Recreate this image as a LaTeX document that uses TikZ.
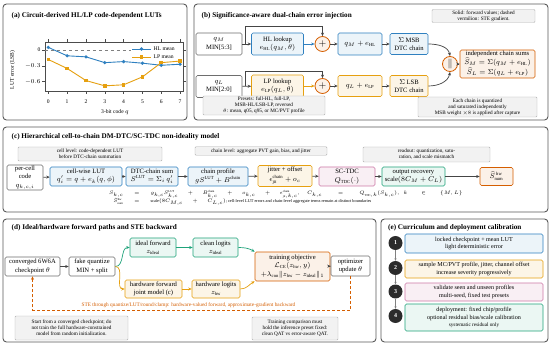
\documentclass[tikz,border=0pt]{standalone}
\usepackage{amsmath,amssymb}
\usepackage{fontspec}
\setmainfont{Liberation Serif}
\usepackage{tikz}
\usetikzlibrary{arrows.meta, positioning, calc}
\usepackage{xcolor}
\definecolor{PanelGray}{HTML}{5A5A5A}
\definecolor{BoxGray}{HTML}{6E6E6E}
\definecolor{NoteGray}{HTML}{B0B0B0}
\definecolor{NoteFill}{HTML}{F2F2F2}
\definecolor{ArrowGray}{HTML}{454545}
\definecolor{CBBlue}{HTML}{2F80C0}
\definecolor{CBOrange}{HTML}{E6A010}
\definecolor{CBVermilion}{HTML}{D55E00}
\definecolor{CBGreen}{HTML}{1FA37A}
\definecolor{CBPurple}{HTML}{CC79A7}
\definecolor{StepBlack}{HTML}{2B2B2B}
\newcommand{\ptitlefont}{\fontsize{7.2}{8.6}\selectfont\bfseries}
\newcommand{\pboxfont}{\fontsize{6.6}{8.4}\selectfont}
\newcommand{\pcurrfont}{\fontsize{6.1}{7.4}\selectfont}
\newcommand{\pnotefont}{\fontsize{5.2}{6.1}\selectfont}
\newcommand{\ptickfont}{\fontsize{5.6}{6.5}\selectfont}
\newcommand{\peqfont}{\fontsize{4.3}{6.4}\selectfont}
\tikzset{
    % Panel styles
    panel/.style={
        draw=PanelGray,
        line width=0.9pt,
        rounded corners=3.5pt
    },
    paneltitle/.style={
        anchor=west,
        inner sep=0pt,
        font=\ptitlefont
    },
    % Node styles
    plainbox/.style={
        rectangle,
        rounded corners=1.5pt,
        draw=BoxGray,
        fill=white,
        line width=0.6pt,
        align=center,
        inner sep=0.5pt,
        font=\pboxfont
    },
    hlbox/.style={plainbox, draw=CBBlue, fill=CBBlue!9},
    lpbox/.style={plainbox, draw=CBOrange, fill=CBOrange!10},
    sumbox/.style={plainbox, draw=CBVermilion, fill=CBVermilion!9},
    tdcbox/.style={plainbox, draw=CBPurple, fill=CBPurple!12},
    recbox/.style={plainbox, draw=CBGreen, fill=CBGreen!9},
    currbox/.style={minimum width=138pt, font=\pcurrfont},
    notebox/.style={
        rectangle,
        rounded corners=1pt,
        draw=NoteGray,
        fill=NoteFill,
        line width=0.4pt,
        align=center,
        inner sep=0.5pt,
        font=\pnotefont
    },
    opcircle/.style={
        circle,
        draw=CBVermilion,
        fill=CBVermilion!9,
        line width=0.8pt,
        minimum size=15pt,
        inner sep=0pt,
        font=\fontsize{10}{10}\selectfont
    },
    stepdot/.style={
        circle,
        fill=StepBlack,
        text=white,
        minimum size=14pt,
        inner sep=0pt,
        font=\fontsize{6}{6}\selectfont\bfseries
    },
    eqtext/.style={inner sep=0pt, font=\peqfont},
    ticklabel/.style={inner sep=0.5pt, font=\ptickfont},
    stelabel/.style={inner sep=0pt, font=\fontsize{5.3}{6}\selectfont, text=CBVermilion},
    % Arrow styles
    myarrow/.style={
        -{Stealth[length=3.5pt,width=3pt]},
        line width=0.7pt,
        ArrowGray
    },
    blueflow/.style={myarrow, CBBlue},
    orangeflow/.style={myarrow, CBOrange},
    greenflow/.style={myarrow, CBGreen},
    steparrow/.style={-{Stealth[length=2.5pt,width=2.2pt]}, line width=0.5pt, gray},
    stearrow/.style={
        -{Stealth[length=3.5pt,width=3pt]},
        line width=0.9pt,
        dash pattern=on 3pt off 2pt,
        CBVermilion
    },
    % Plot styles
    hlcurve/.style={CBBlue, line width=0.9pt},
    lpcurve/.style={CBOrange, line width=0.9pt}
}

\begin{document}
\begin{tikzpicture}[x=1pt, y=-1pt]
    \useasboundingbox (0,0) rectangle (550,345);
    \fill[white] (0,0) rectangle (550,345);

    % Panels
    \draw[panel] (3,4) rectangle (187,120);
    \draw[panel] (194,4) rectangle (548,120);
    \draw[panel] (3,127) rectangle (548,212);
    \draw[panel] (3,219) rectangle (376,342);
    \draw[panel] (381,219) rectangle (548,342);

    \node[paneltitle] (titleA) at (11.5,15.5) {(a) Circuit-derived HL/LP code-dependent LUTs};
    \node[paneltitle] (titleB) at (201.5,15.5) {(b) Significance-aware dual-chain error injection};
    \node[paneltitle] (titleC) at (11.5,137) {(c) Hierarchical cell-to-chain DM-DTC/SC-TDC non-ideality model};
    \node[paneltitle] (titleD) at (11.5,227.5) {(d) Ideal/hardware forward paths and STE backward};
    \node[paneltitle] (titleE) at (388,227.5) {(e) Curriculum and deployment calibration};

    % (a) LUT plot
    \begin{scope}[shift={(48.3,50)}, x=18.83pt, y=52.7pt]
        \draw[line width=0.5pt, black!70] (-0.18,-0.78) rectangle (7.15,0.15);
        \draw[line width=0.5pt, gray, dashed] (-0.18,0) -- (7.15,0);
        \foreach \q in {0,...,7} {
            \draw[line width=0.5pt, black!70] (\q,0.15) -- (\q,0.205);
            \draw[line width=0.5pt, black!70] (\q,-0.78) -- (\q,-0.835);
            \node[ticklabel] at (\q,-0.98) {\q};
        }
        \foreach \v/\t in {0/0, -0.3/$-0.3$, -0.6/$-0.6$} {
            \draw[line width=0.5pt, black!70] (-0.18,\v) -- (-0.34,\v);
            \draw[line width=0.5pt, black!70] (7.15,\v) -- (7.31,\v);
            \node[ticklabel, anchor=east] at (-0.38,\v) {\t};
        }
        \fill[white] (4.4,0.02) rectangle (6.98,-0.21);
        \draw[hlcurve] plot coordinates {(0,0.05) (1,-0.11) (2,-0.13) (3,-0.24) (4,-0.22) (5,-0.25) (6,-0.29) (7,-0.27)};
        \draw[lpcurve] plot coordinates {(0,-0.18) (1,-0.35) (2,-0.58) (3,-0.68) (4,-0.66) (5,-0.51) (6,-0.24) (7,-0.21)};
        \foreach \q/\v in {0/0.05, 1/-0.11, 2/-0.13, 3/-0.24, 4/-0.22, 5/-0.25, 6/-0.29, 7/-0.27}
            \fill[CBBlue] (\q,\v) circle[radius=1.8pt];
        \foreach \q/\v in {0/-0.18, 1/-0.35, 2/-0.58, 3/-0.68, 4/-0.66, 5/-0.51, 6/-0.24, 7/-0.21}
            \fill[CBOrange] ($(\q,\v)+(-1.8pt,-1.8pt)$) rectangle +(3.6pt,3.6pt);
    \end{scope}
    % legend
    \draw[hlcurve] (132,49) -- (151,49);
    \fill[CBBlue] (141.5,49) circle[radius=1.8pt];
    \node[ticklabel, anchor=west] (legHL) at (153,49) {HL mean};
    \draw[lpcurve] (132,57) -- (151,57);
    \fill[CBOrange] (139.7,55.2) rectangle (143.3,58.8);
    \node[ticklabel, anchor=west] (legLP) at (153,57) {LP mean};
    \node[ticklabel, rotate=90] (ylab) at (12.5,70) {LUT error (LSB)};
    \node[ticklabel] (xlab) at (115,112) {3-bit code $q$};

    % (b) dual-chain injection
    \node[notebox, minimum width=103pt, minimum height=13pt] (legendnote) at (483.5,16) {Solid: forward values; dashed\\vermilion: STE gradient.};

    \node[plainbox, minimum width=46pt, minimum height=22pt] (qM) at (219,44) {$q_M$\\MIN[5:3]};
    \node[hlbox, minimum width=52pt, minimum height=22pt] (hlLUT) at (277.5,44) {HL lookup\\$e_{\mathrm{HL}}(q_M,\theta)$};
    \node[opcircle] (addM) at (322.5,44) {$+$};
    \node[hlbox, minimum width=44pt, minimum height=22pt] (valM) at (360,44) {$q_M+e_{\mathrm{HL}}$};
    \node[hlbox, minimum width=38pt, minimum height=21pt] (msb) at (409,44) {$\Sigma$ MSB\\DTC chain};

    \node[plainbox, minimum width=46pt, minimum height=22pt] (qL) at (219,86.5) {$q_L$\\MIN[2:0]};
    \node[lpbox, minimum width=52pt, minimum height=22pt] (lpLUT) at (277.5,86) {LP lookup\\$e_{\mathrm{LP}}(q_L,\theta)$};
    \node[opcircle] (addL) at (322.5,86) {$+$};
    \node[lpbox, minimum width=44pt, minimum height=21pt] (valL) at (360,86) {$q_L+e_{\mathrm{LP}}$};
    \node[lpbox, minimum width=38pt, minimum height=21pt] (lsb) at (409,86) {$\Sigma$ LSB\\DTC chain};

    \node[opcircle] (concat) at (450,64) {$\|$};
    \node[sumbox, minimum width=75pt, minimum height=28pt] (chains) at (497.5,64) {independent chain sums\\[0.5pt]$\widehat{S}_M=\Sigma(q_M+e_{\mathrm{HL}})$\\[0.5pt]$\widehat{S}_L=\Sigma(q_L+e_{\mathrm{LP}})$};

    \node[notebox, minimum width=122pt, minimum height=19pt] (presets) at (264,105.5) {Presets: full-HL, full-LP,\\MSB-HL/LSB-LP, reversed\\$\theta$: mean, q05, q95, or MC/PVT profile};
    \node[notebox, minimum width=119pt, minimum height=20pt] (capture) at (477.5,107) {Each chain is quantized\\and saturated independently\\MSB weight $\times 8$ is applied after capture};

    \coordinate (tapM) at ($(qM.east)+(3,0)$);
    \coordinate (tapL) at ($(qL.east)+(3,0)$);
    \draw[myarrow] (qM) -- (hlLUT);
    \draw[myarrow] (tapM) -- ++(0,-18) -| (addM.north);
    \draw[blueflow] (hlLUT) -- (addM);
    \draw[myarrow] (addM) -- (valM);
    \draw[myarrow] (valM) -- (msb);
    \draw[myarrow] (qL) -- (lpLUT);
    \draw[myarrow] (tapL) -- ++(0,-15.5) -| (addL.north);
    \draw[orangeflow] (lpLUT) -- (addL);
    \draw[myarrow] (addL) -- (valL);
    \draw[myarrow] (valL) -- (lsb);
    \draw[myarrow] (msb.east) to[out=0, in=100] (concat.north);
    \draw[myarrow] (lsb.east) to[out=0, in=-100] (concat.south);
    \draw[myarrow] (concat) -- (chains);

    % (c) hierarchical non-ideality model
    \node[notebox, minimum width=144pt, minimum height=14pt] (cellnote) at (90,154) {cell level: code-dependent LUT\\before DTC-chain summation};
    \node[notebox, minimum width=132pt, minimum height=8.5pt] (chainnote) at (261,151) {chain level: aggregate PVT gain, bias, and jitter};
    \node[notebox, minimum width=127pt, minimum height=15pt] (readnote) at (426.5,154.5) {readout: quantization, satu-\\ration, and scale mismatch};

    \node[plainbox, minimum width=36pt, minimum height=25pt] (cellcode) at (25,177.5) {per-cell\\code\\$q_{k,c,i}$};
    \node[hlbox, minimum width=72pt, minimum height=19pt] (cellLUT) at (86,176.5) {cell-wise LUT\\$q_i'=q+e_k(q,\phi)$};
    \node[hlbox, minimum width=52pt, minimum height=19pt] (chainsum) at (152,176.5) {DTC-chain sum\\$S^{\mathrm{LUT}}=\Sigma_i\, q_i'$};
    \node[hlbox, minimum width=60pt, minimum height=19pt] (profile) at (218,176.5) {chain profile\\$gS^{\mathrm{LUT}}+B^{\mathrm{chain}}$};
    \node[lpbox, minimum width=54pt, minimum height=21pt] (jitter) at (285,176) {jitter + offset\\[1.5pt]$\epsilon^{\mathrm{chain}}_{\mathrm{jit}}+o_c$};
    \node[tdcbox, minimum width=56pt, minimum height=19pt] (sctdc) at (347,176.5) {SC-TDC\\$Q_{\mathrm{TDC}}(\cdot)$};
    \node[recbox, minimum width=63pt, minimum height=19pt] (recover) at (413.5,176.5) {output recovery\\scale$(8C_M+C_L)$};
    \node[sumbox, minimum width=33pt, minimum height=18pt] (shw) at (496.5,176.5) {$\widehat{S}^{\,\mathrm{hw}}_{\mathrm{num}}$};

    \foreach \a/\b in {cellcode/cellLUT, cellLUT/chainsum, chainsum/profile, profile/jitter, jitter/sctdc, sctdc/recover, recover/shw}
        \draw[myarrow] (\a) -- (\b);

    \node[eqtext, anchor=west] (eqlines) at (109,198) {%
        \begin{tabular}{@{}r@{\hspace{11pt}}c@{\hspace{11pt}}l@{}}
            $S_{k,c}$ & $=$ & $g_{k,c}S^{\mathrm{LUT}}_{k,c}\hspace{8pt}+\hspace{8pt}B^{\mathrm{chain}}_{k,c}\hspace{8pt}+\hspace{8pt}o_{k,c}\hspace{8pt}+\hspace{8pt}\epsilon^{\mathrm{chain}}_{\mathrm{jit},k,c},\hspace{6pt}C_{k,c}\hspace{14pt}=\hspace{14pt}Q_{\mathrm{TDC},k}(S_{k,c}),\hspace{3pt}k\hspace{12pt}\in\hspace{12pt}\{M,L\}$\\[0.8pt]
            $\widehat{S}^{\mathrm{hw}}_{\mathrm{num}}$ & $=$ & $\mathrm{scale}(8C_{M,c}\hspace{8pt}+\hspace{8pt}C_{L,c})$; cell-level LUT errors and chain-level aggregate terms remain at distinct boundaries
        \end{tabular}};

    % (d) forward paths and STE backward
    \node[plainbox, minimum width=55pt, minimum height=19pt] (ckpt) at (32.5,266.5) {converged 6W6A\\checkpoint $\theta$};
    \node[plainbox, minimum width=46pt, minimum height=19pt] (fakeq) at (92,266.5) {fake quantize\\MIN + split};
    \node[recbox, minimum width=46pt, minimum height=19pt] (idealfw) at (153,247.5) {ideal forward\\$z_{\mathrm{ideal}}$};
    \node[recbox, minimum width=45pt, minimum height=19pt] (cleanlg) at (215.5,247.5) {clean logits\\$z_{\mathrm{ideal}}$};
    \node[lpbox, minimum width=57pt, minimum height=18pt] (hwfw) at (153.5,289) {hardware forward\\joint model (c)};
    \node[lpbox, minimum width=48pt, minimum height=18pt] (hwlg) at (216,289) {hardware logits\\$z_{\mathrm{hw}}$};
    \node[sumbox, minimum width=75pt, minimum height=29pt] (objective) at (292.5,266.5) {training objective\\$\mathcal{L}_{\mathrm{CE}}(z_{\mathrm{hw}},y)$\\[0.5pt]$+\lambda_{\mathrm{con}}\|z_{\mathrm{hw}}-z_{\mathrm{ideal}}\|_1$};
    \node[plainbox, minimum width=39pt, minimum height=20pt] (optim) at (350.5,266) {optimizer\\update $\theta$};

    \draw[myarrow] (ckpt) -- (fakeq);
    \draw[greenflow] (fakeq.east) to[out=0, in=180] (idealfw.west);
    \draw[orangeflow] (fakeq.east) to[out=0, in=180] (hwfw.west);
    \draw[greenflow] (idealfw) -- (cleanlg);
    \draw[orangeflow] (hwfw) -- (hwlg);
    \draw[greenflow] (cleanlg.east) to[out=0, in=150] (objective.north west);
    \draw[orangeflow] (hwlg.east) to[out=0, in=210] (objective.south west);
    \draw[myarrow] (objective) -- (optim);
    \draw[stearrow] (optim.south) -- ++(0,34) -| (ckpt.south);
    \node[stelabel] (stetext) at (188.5,305) {STE through quantize/LUT/round/clamp: hardware-valued forward, approximate-gradient backward};

    \node[notebox, minimum width=113pt, minimum height=24pt] (startnote) at (71.5,328) {Start from a converged checkpoint; do\\not train the full hardware-constrained\\model from random initialization.};
    \node[notebox, minimum width=86pt, minimum height=23pt] (trainnote) at (295,328.5) {Training comparison must\\hold the inference preset fixed:\\clean QAT vs error-aware QAT.};

    % (e) curriculum
    \foreach \i/\yy in {1/243, 2/268, 3/291.5, 4/316}
        \node[stepdot] (s\i) at (395.5,\yy) {\i};
    \foreach \a/\b in {s1/s2, s2/s3, s3/s4}
        \draw[steparrow] (\a) -- (\b);

    \node[hlbox, currbox, minimum height=19pt] (c1) at (474,243.5) {locked checkpoint + mean LUT\\light deterministic error};
    \node[lpbox, currbox, minimum height=18pt] (c2) at (474,269) {sample MC/PVT profile, jitter, channel offset\\increase severity progressively};
    \node[tdcbox, currbox, minimum height=18pt] (c3) at (474,292) {validate seen and unseen profiles\\multi-seed, fixed test presets};
    \node[recbox, currbox, minimum height=27pt] (c4) at (474,317.5) {deployment: fixed chip/profile\\optional residual bias/scale calibration\\{\pnotefont systematic residual only}};
\end{tikzpicture}
\end{document}
